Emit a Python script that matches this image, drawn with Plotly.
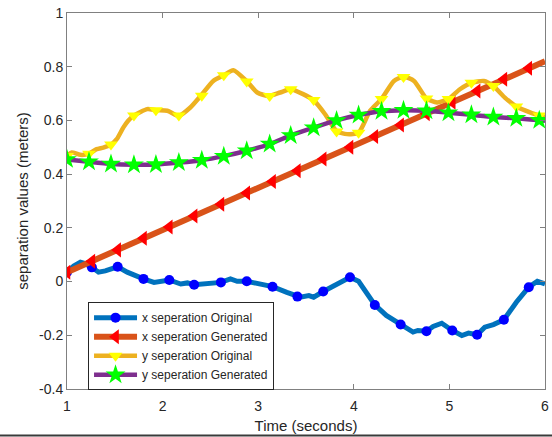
import plotly.graph_objects as go

# ---- data ----
# x separation original (blue) : dense line
xo_t = [1.00,1.07,1.14,1.20,1.26,1.33,1.40,1.45,1.53,1.63,1.72,1.80,1.91,1.98,2.07,2.19,2.26,2.33,2.46,2.61,
        2.71,2.78,2.88,3.02,3.15,3.30,3.41,3.44,3.53,3.58,3.68,3.82,3.96,4.05,4.14,4.22,4.34,4.49,4.62,4.67,
        4.76,4.83,4.92,5.03,5.13,5.20,5.29,5.37,5.46,5.57,5.70,5.83,5.92,6.00]
xo_v = [0.035,0.058,0.072,0.066,0.053,0.035,0.040,0.047,0.055,0.035,0.020,0.010,-0.003,0.001,0.006,-0.009,-0.005,-0.012,-0.009,-0.003,
        0.010,0.001,0.001,-0.009,-0.019,-0.040,-0.056,-0.058,-0.052,-0.058,-0.037,-0.009,0.016,0.001,-0.046,-0.087,-0.126,-0.160,-0.188,-0.182,
        -0.185,-0.167,-0.155,-0.182,-0.201,-0.192,-0.198,-0.170,-0.160,-0.142,-0.077,-0.021,0.001,-0.009]
# marker times shared by the x series
xm_t = [1.00,1.26,1.53,1.80,2.07,2.33,2.61,2.88,3.15,3.41,3.68,3.96,4.22,4.49,4.76,5.03,5.29,5.57,5.83]
xo_m = [0.035,0.053,0.055,0.010,0.006,-0.012,-0.003,0.001,-0.019,-0.056,-0.037,0.016,-0.087,-0.160,-0.185,-0.182,-0.198,-0.142,-0.021]
# x separation generated (red)
xg_t = [1.00,1.26,1.53,1.80,2.07,2.33,2.61,2.88,3.15,3.41,3.68,3.96,4.22,4.49,4.76,5.03,5.29,5.57,5.83,6.00]
xg_v = [0.035,0.076,0.118,0.161,0.203,0.244,0.288,0.330,0.373,0.413,0.456,0.500,0.540,0.583,0.625,0.668,0.710,0.753,0.794,0.820]
xg_m = xg_v[:-1]

# y separation original (gold) : dense line
yo_t = [1.00,1.05,1.14,1.23,1.31,1.38,1.46,1.52,1.59,1.64,1.70,1.84,1.93,2.05,2.17,2.29,2.40,2.53,2.64,2.74,
        2.88,2.99,3.11,3.23,3.34,3.47,3.58,3.70,3.82,3.93,4.05,4.17,4.29,4.42,4.52,4.63,4.76,4.87,4.99,5.11,
        5.23,5.36,5.46,5.58,5.70,5.85,5.94,6.00]
yo_v = [0.468,0.481,0.472,0.476,0.493,0.499,0.510,0.530,0.574,0.599,0.618,0.642,0.638,0.636,0.617,0.648,0.692,0.747,0.768,0.787,
        0.746,0.704,0.691,0.704,0.716,0.698,0.675,0.623,0.560,0.549,0.554,0.636,0.680,0.747,0.763,0.747,0.682,0.667,0.680,0.716,
        0.740,0.747,0.728,0.685,0.652,0.629,0.618,0.611]
# marker times shared by the y series
ym_t = [1.00,1.23,1.46,1.70,1.93,2.17,2.41,2.64,2.88,3.12,3.34,3.58,3.82,4.05,4.29,4.52,4.76,4.99,5.23,5.46,5.70,5.94]
yo_m = [0.468,0.476,0.510,0.618,0.638,0.618,0.692,0.768,0.745,0.691,0.716,0.676,0.559,0.554,0.680,0.762,0.682,0.680,0.740,0.728,0.652,0.618]
# y separation generated (purple)
yg_t = ym_t + [6.00]
yg_v = [0.455,0.446,0.438,0.435,0.436,0.443,0.452,0.467,0.487,0.512,0.544,0.573,0.600,0.620,0.634,0.638,0.636,0.629,0.621,0.613,0.608,0.601,0.599]
yg_m = yg_v[:-1]

names = ["x seperation Original", "x seperation Generated", "y seperation Original", "y seperation Generated"]
x_ticks = [1, 2, 3, 4, 5, 6]
y_ticks = [-0.4, -0.2, 0, 0.2, 0.4, 0.6, 0.8, 1]
y_tick_text = ["-0.4", "-0.2", "0", "0.2", "0.4", "0.6", "0.8", "1"]

# ---- styles ----
styles = [
    dict(lc="#0072BD", lw=5, sym="circle", mc="#0000FF", ms=10, shape="linear"),
    dict(lc="#D95319", lw=6, sym="triangle-left", mc="#FF0000", ms=13, shape="linear"),
    dict(lc="#EDB120", lw=4.5, sym="triangle-down", mc="#FFFF00", ms=12, shape="spline"),
    dict(lc="#7E2F8E", lw=4.5, sym="star", mc="#00FF00", ms=15, shape="spline"),
]
lines = [(xo_t, xo_v, xm_t, xo_m), (xg_t, xg_v, xm_t, xg_m), (yo_t, yo_v, ym_t, yo_m), (yg_t, yg_v, ym_t, yg_m)]

fig = go.Figure()
for (lt, lv, mt, mv), st, nm in zip(lines, styles, names):
    fig.add_trace(go.Scatter(x=lt, y=lv, mode="lines", showlegend=False, hoverinfo="skip",
                             line=dict(color=st["lc"], width=st["lw"], shape=st["shape"], smoothing=0.6)))
    fig.add_trace(go.Scatter(x=mt, y=mv, mode="markers", showlegend=False,
                             marker=dict(symbol=st["sym"], color=st["mc"], size=st["ms"],
                                         line=dict(width=0))))
# legend entries
for st, nm in zip(styles, names):
    fig.add_trace(go.Scatter(x=[None], y=[None], mode="lines+markers", name=nm,
                             line=dict(color=st["lc"], width=st["lw"]),
                             marker=dict(symbol=st["sym"], color=st["mc"], size=st["ms"], line=dict(width=0))))

axis_common = dict(showline=True, linecolor="#808080", linewidth=1, mirror="ticks",
                   ticks="inside", ticklen=5, tickcolor="#808080", showgrid=False, zeroline=False,
                   automargin=False,
                   tickfont=dict(family="Liberation Sans, Arial", size=14, color="#262626"))

fig.update_layout(
    width=552, height=437,
    margin=dict(l=67, r=7, t=13, b=48),
    paper_bgcolor="white", plot_bgcolor="white",
    font=dict(family="Liberation Sans, Arial", color="#262626"),
    xaxis=dict(range=[1, 6], tickvals=x_ticks, ticklabelstandoff=4,
               title=dict(text="Time (seconds)", font=dict(size=15), standoff=7), **axis_common),
    yaxis=dict(range=[-0.4, 1], tickvals=y_ticks, ticktext=y_tick_text,
               title=dict(text="separation values (meters)", font=dict(size=15), standoff=6), **axis_common),
    legend=dict(x=0.044, y=0.231, xanchor="left", yanchor="top",
                bgcolor="white", bordercolor="#262626", borderwidth=1,
                font=dict(size=12, color="#262626"), tracegroupgap=0,
                itemwidth=43),
    shapes=[dict(type="line", xref="paper", yref="paper",
                 x0=-67/478, x1=485/478, y0=-46.5/376, y1=-46.5/376,
                 line=dict(color="#3a3a3a", width=2))],
)

fig.write_html("out.html")
